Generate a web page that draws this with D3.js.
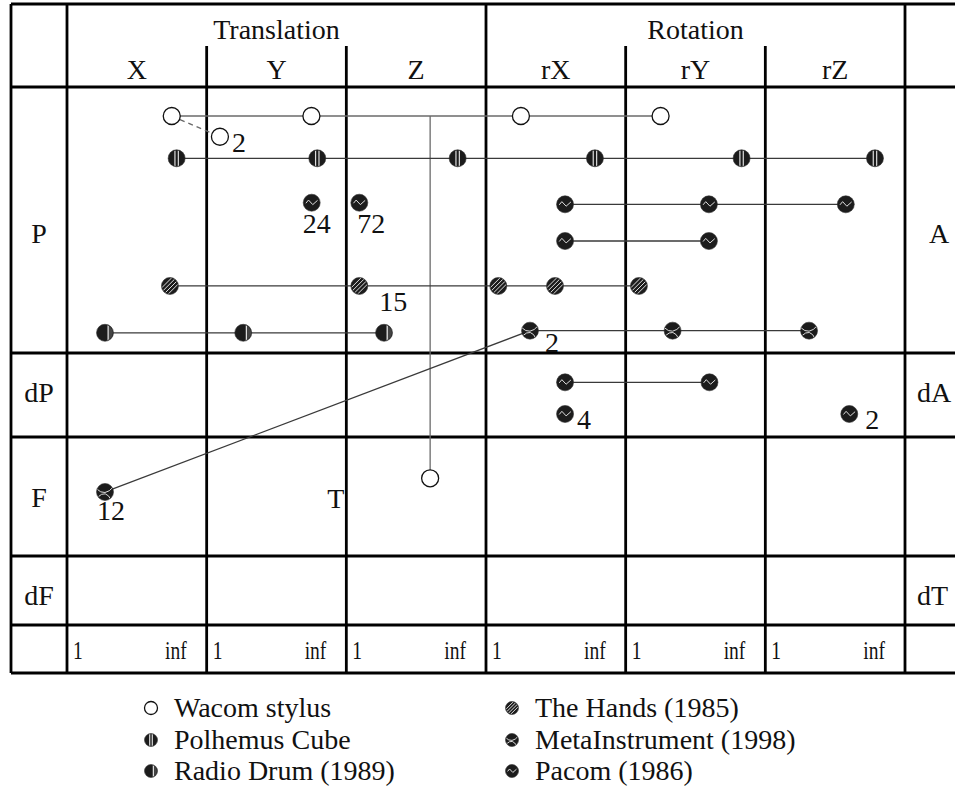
<!DOCTYPE html>
<html>
<head>
<meta charset="utf-8">
<script src="https://cdn.jsdelivr.net/npm/d3@7"></script>
<style>
  body { margin: 0; background: #fff; }
  svg text { font-family: "Liberation Serif", "DejaVu Serif", serif; fill: #111; }
</style>
</head>
<body>
<svg id="chart" width="955" height="789"></svg>
<script>
// ---- data ----
const columns = ["X", "Y", "Z", "rX", "rY", "rZ"];
const groups = [{ name: "Translation", from: "X", to: "Z" }, { name: "Rotation", from: "rX", to: "rZ" }];
const rows = ["P", "dP", "F", "dF"];
const rightLabels = ["A", "dA", "", "dT"];
const strayLabel = "T";
const tickLabels = ["1", "inf"];

const deviceNames = ["Wacom stylus", "Polhemus Cube", "Radio Drum (1989)",
                     "The Hands (1985)", "MetaInstrument (1998)", "Pacom (1986)"];
const deviceGlyphs = ["open", "vstripe", "half", "hatch", "curve", "wave"];

// points: id, device, row, column, res (0 = 1, 1 = inf), pos (fraction of row height), label, label spot
const wacomPts = [
  { id: "w1", dev: 0, row: "P", col: "X", res: 0.75, pos: 0.109 },
  { id: "w2", dev: 0, row: "P", col: "Y", res: 0.75, pos: 0.109 },
  { id: "wj", dev: 0, row: "P", col: "Z", res: 0.60, pos: 0.109, hidden: true },
  { id: "w3", dev: 0, row: "P", col: "rX", res: 0.25, pos: 0.109 },
  { id: "w4", dev: 0, row: "P", col: "rY", res: 0.25, pos: 0.109 },
  { id: "w5", dev: 0, row: "F", col: "Z", res: 0.60, pos: 0.347 },
  { id: "w6", dev: 0, row: "P", col: "Y", res: 0.095, pos: 0.187, label: "2", spot: "se" }
];
const polhemusPts = [
  { id: "p1", dev: 1, row: "P", col: "X", res: 0.785, pos: 0.268 },
  { id: "p2", dev: 1, row: "P", col: "Y", res: 0.792, pos: 0.268 },
  { id: "p3", dev: 1, row: "P", col: "Z", res: 0.797, pos: 0.268 },
  { id: "p4", dev: 1, row: "P", col: "rX", res: 0.78, pos: 0.268 },
  { id: "p5", dev: 1, row: "P", col: "rY", res: 0.83, pos: 0.268 },
  { id: "p6", dev: 1, row: "P", col: "rZ", res: 0.785, pos: 0.268 }
];
const radioPts = [
  { id: "r1", dev: 2, row: "P", col: "X", res: 0.272, pos: 0.924 },
  { id: "r2", dev: 2, row: "P", col: "Y", res: 0.262, pos: 0.924 },
  { id: "r3", dev: 2, row: "P", col: "Z", res: 0.27, pos: 0.924 }
];
const handsPts = [
  { id: "h1", dev: 3, row: "P", col: "X", res: 0.737, pos: 0.748 },
  { id: "h2", dev: 3, row: "P", col: "Z", res: 0.093, pos: 0.748, label: "15", spot: "far" },
  { id: "h3", dev: 3, row: "P", col: "rX", res: 0.088, pos: 0.748 },
  { id: "h4", dev: 3, row: "P", col: "rX", res: 0.494, pos: 0.748 },
  { id: "h5", dev: 3, row: "P", col: "rY", res: 0.095, pos: 0.748 }
];
const metaPts = [
  { id: "m1", dev: 4, row: "P", col: "rX", res: 0.315, pos: 0.916, label: "2", spot: "se2" },
  { id: "m2", dev: 4, row: "P", col: "rY", res: 0.336, pos: 0.916 },
  { id: "m3", dev: 4, row: "P", col: "rZ", res: 0.313, pos: 0.916 },
  { id: "m4", dev: 4, row: "F", col: "X", res: 0.272, pos: 0.462, label: "12", spot: "s2" }
];
const pacomPts = [
  { id: "c1", dev: 5, row: "P", col: "Y", res: 0.752, pos: 0.435, label: "24", spot: "s" },
  { id: "c2", dev: 5, row: "P", col: "Z", res: 0.093, pos: 0.435, label: "72", spot: "sl" },
  { id: "c3", dev: 5, row: "P", col: "rX", res: 0.566, pos: 0.441 },
  { id: "c4", dev: 5, row: "P", col: "rY", res: 0.596, pos: 0.441 },
  { id: "c5", dev: 5, row: "P", col: "rZ", res: 0.576, pos: 0.441 },
  { id: "c6", dev: 5, row: "P", col: "rX", res: 0.566, pos: 0.579 },
  { id: "c7", dev: 5, row: "P", col: "rY", res: 0.596, pos: 0.579 },
  { id: "c8", dev: 5, row: "dP", col: "rX", res: 0.566, pos: 0.349 },
  { id: "c9", dev: 5, row: "dP", col: "rY", res: 0.60, pos: 0.349 },
  { id: "c10", dev: 5, row: "dP", col: "rX", res: 0.566, pos: 0.726, label: "4", spot: "e" },
  { id: "c11", dev: 5, row: "dP", col: "rZ", res: 0.601, pos: 0.726, label: "2", spot: "e2" }
];

// connections between points
const links = [
  ["w1", "w4", "solid"], ["wj", "w5", "solid"], ["w1", "w6", "dash"],
  ["p1", "p6", "solid"],
  ["r1", "r3", "solid"],
  ["h1", "h5", "solid"],
  ["m1", "m3", "solid"], ["m1", "m4", "solid"],
  ["c3", "c5", "solid"], ["c6", "c7", "solid"], ["c8", "c9", "solid"]
];

// ---- layout ----
const svg = d3.select("#chart");
const leftX = 11, labelRight = 67, gridRight = 905, pageRight = 955;
const topY = 4, headerMid = 46;
const rowEdges = [87, 353, 437, 556, 625, 673];   // P, dP, F, dF, scale row
const labelBase = [0.585, 0.585, 0.588, 0.71];    // row label baseline, share of row height

const x = d3.scaleBand().domain(columns).range([labelRight, gridRight]);
const res = d3.scaleLinear().domain([0, 1]).range([0, x.bandwidth()]);
const yRow = d3.scaleOrdinal().domain(rows).range(rows.map((r, i) => [rowEdges[i], rowEdges[i + 1]]));
const yIn = (row, f) => { const [a, b] = yRow(row); return d3.scaleLinear().domain([0, 1]).range([a, b])(f); };

const allPts = [].concat(wacomPts, polhemusPts, radioPts, handsPts, metaPts, pacomPts);
allPts.forEach(d => { d.x = x(d.col) + res(d.res); d.y = yIn(d.row, d.pos); });
const byId = new Map(allPts.map(d => [d.id, d]));

// ---- grid ----
const grid = svg.append("g").attr("stroke", "#000").attr("stroke-width", 2.8).attr("fill", "none");
grid.append("line").attr("x1", leftX).attr("x2", pageRight).attr("y1", topY).attr("y2", topY);
rowEdges.forEach(y => grid.append("line").attr("x1", leftX).attr("x2", pageRight).attr("y1", y).attr("y2", y));
[leftX, labelRight, x("rX"), gridRight].forEach(v =>
  grid.append("line").attr("x1", v).attr("x2", v).attr("y1", topY).attr("y2", rowEdges[5]));
["Y", "Z", "rY", "rZ"].forEach(c =>
  grid.append("line").attr("x1", x(c)).attr("x2", x(c)).attr("y1", headerMid).attr("y2", rowEdges[5]));

// ---- header text ----
const big = 28;
svg.selectAll(".grp").data(groups).enter().append("text")
  .attr("x", d => (x(d.from) + x(d.to) + x.bandwidth()) / 2)
  .attr("y", 39).attr("text-anchor", "middle").attr("font-size", big)
  .text(d => d.name);
svg.selectAll(".col").data(columns).enter().append("text")
  .attr("x", d => x(d) + x.bandwidth() / 2).attr("y", 79)
  .attr("text-anchor", "middle").attr("font-size", big).text(d => d);

// row labels
const rowMid = r => { const [a, b] = yRow(r); return (a + b) / 2; };
svg.selectAll(".rl").data(rows).enter().append("text")
  .attr("x", (leftX + labelRight) / 2).attr("y", (d, i) => yIn(d, labelBase[i]))
  .attr("text-anchor", "middle").attr("font-size", big).text(d => d);
svg.selectAll(".rr").data(rightLabels).enter().append("text")
  .attr("x", 905).attr("y", (d, i) => yIn(rows[i], labelBase[i]))
  .attr("text-anchor", "start").attr("font-size", big).text(d => d)
  .attr("dx", d => d.length > 1 ? 12 : 24);
svg.append("text").attr("x", x("Z") - 2).attr("y", rowMid("F") + 11)
  .attr("text-anchor", "end").attr("font-size", big).text(strayLabel);

// scale row (condensed type)
const tickY = rowEdges[5] - 14;
columns.forEach(c => {
  svg.append("text").attr("transform", `translate(${x(c) + 6},${tickY}) scale(0.78,1)`)
    .attr("font-size", 25).text(tickLabels[0]);
  svg.append("text").attr("transform", `translate(${x(c) + x.bandwidth() - 20},${tickY}) scale(0.78,1)`)
    .attr("text-anchor", "end").attr("font-size", 25).text(tickLabels[1]);
});

// ---- glyph defs ----
const defs = svg.append("defs");
[8.5, 6.5].forEach(r => defs.append("clipPath").attr("id", "clip" + Math.round(r * 10))
  .append("circle").attr("r", r - 0.6));

function glyph(g, type, r) {
  if (type === "open") {
    g.append("circle").attr("r", r).attr("fill", "#fff").attr("stroke", "#111").attr("stroke-width", 1.3);
    return;
  }
  g.append("circle").attr("r", r).attr("fill", "#1c1c1c").attr("stroke", "#333").attr("stroke-width", 0.6);
  const k = r / 8;
  const inner = g.append("g").attr("clip-path", `url(#clip${Math.round(r * 10)})`)
    .attr("stroke", "#ddd").attr("fill", "none").attr("stroke-width", 1);
  if (type === "vstripe") {
    [-1.6, 1.6].forEach(v => inner.append("line").attr("x1", v * k).attr("x2", v * k).attr("y1", -r).attr("y2", r).attr("stroke-width", 1.2));
  } else if (type === "half") {
    inner.append("line").attr("x1", 3 * k).attr("x2", 3 * k).attr("y1", -r).attr("y2", r).attr("stroke-width", 1.4);
    inner.append("rect").attr("x", 3.7 * k).attr("y", -r).attr("width", r).attr("height", 2 * r)
      .attr("fill", "#444").attr("stroke", "none");
  } else if (type === "hatch") {
    [-6, -2, 2, 6].forEach(o => inner.append("line")
      .attr("x1", (o - 8) * k).attr("y1", 8 * k).attr("x2", (o + 8) * k).attr("y2", -8 * k));
  } else if (type === "curve") {
    inner.append("path").attr("d", `M${-8 * k},${-3 * k} Q0,${5 * k} ${8 * k},${-5 * k}`);
    inner.append("path").attr("d", `M${-7 * k},${5 * k} Q${1 * k},${-3 * k} ${6 * k},${8 * k}`);
  } else if (type === "wave") {
    inner.append("path").attr("d",
      `M${-5.5 * k},${0.5 * k} L${-3 * k},${-2.5 * k} L${1 * k},${1.8 * k} L${5.5 * k},${-2.2 * k}`);
  }
}

// ---- links ----
svg.append("g").selectAll("line").data(links).enter().append("line")
  .attr("x1", d => byId.get(d[0]).x).attr("y1", d => byId.get(d[0]).y)
  .attr("x2", d => byId.get(d[1]).x).attr("y2", d => byId.get(d[1]).y)
  .attr("stroke", d => byId.get(d[0]).dev === 0 ? "#6a6a6a" : "#3a3a3a")
  .attr("stroke-width", 1.3)
  .attr("stroke-dasharray", d => d[2] === "dash" ? "5,4" : null);

// ---- points ----
const pts = svg.append("g").selectAll("g").data(allPts.filter(d => !d.hidden)).enter().append("g")
  .attr("transform", d => `translate(${d.x},${d.y})`);
pts.each(function (d) { glyph(d3.select(this), deviceGlyphs[d.dev], 8.5); });

const spots = {
  se: [12, 15, "start"], se2: [15, 21, "start"], s: [5, 30, "middle"], sl: [-2, 30, "start"],
  far: [20, 25, "start"], s2: [6, 28, "middle"], e: [12, 15, "start"], e2: [16, 15, "start"]
};
svg.append("g").selectAll("text").data(allPts.filter(d => d.label)).enter().append("text")
  .attr("x", d => d.x + spots[d.spot][0]).attr("y", d => d.y + spots[d.spot][1])
  .attr("text-anchor", d => spots[d.spot][2]).attr("font-size", big).text(d => d.label);

// ---- legend ----
const legend = svg.append("g");
const legCols = [151, 512], legRows = [708, 740, 771];
deviceNames.forEach((name, i) => {
  const gx = legCols[Math.floor(i / 3)], gy = legRows[i % 3];
  const g = legend.append("g").attr("transform", `translate(${gx},${gy})`);
  glyph(g, deviceGlyphs[i], 6.5);
  legend.append("text").attr("x", gx + 23).attr("y", gy + 9).attr("font-size", 28).text(name);
});
</script>
</body>
</html>
